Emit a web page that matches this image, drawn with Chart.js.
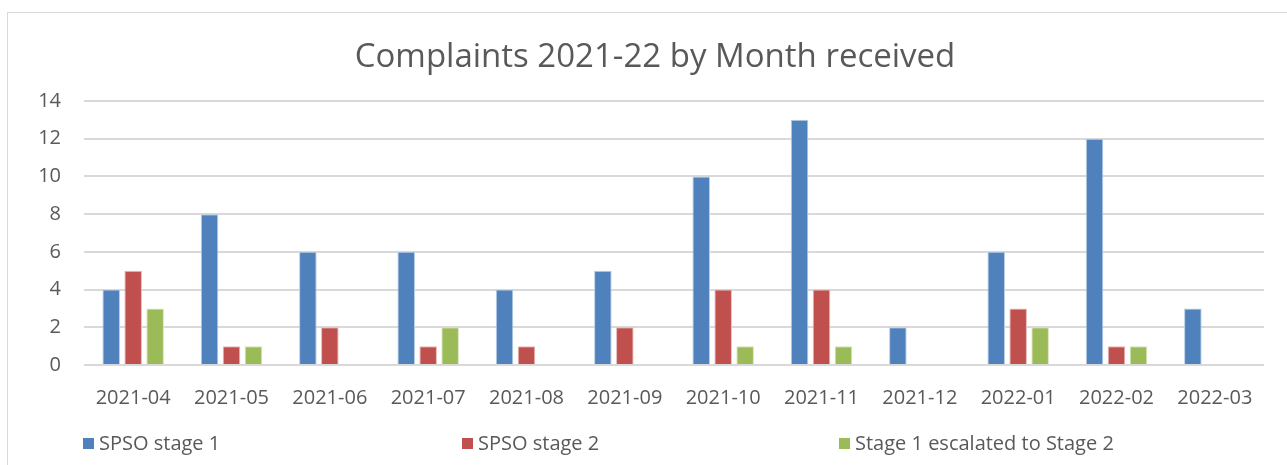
<!DOCTYPE html>
<html>
<head>
<meta charset="utf-8">
<script src="https://cdn.jsdelivr.net/npm/chart.js@4"></script>
<style>
  html, body { margin: 0; padding: 0; background: #fff; overflow: hidden; }
  #frame {
    position: absolute; left: 7px; top: 12px;
    width: 1300px; height: 470px;
    border: 1px solid #d9d9d9; box-sizing: border-box;
  }
  #wrap { position: absolute; left: 1px; top: 1px; width: 1279px; height: 452px; }
</style>
</head>
<body>
<div id="frame"><div id="wrap"><canvas id="complaintsChart"></canvas></div></div>
<script>
// Complaints by month
const chartTitle = "Complaints 2021-22 by Month received";
const months = ["2021-04", "2021-05", "2021-06", "2021-07", "2021-08", "2021-09",
                "2021-10", "2021-11", "2021-12", "2022-01", "2022-02", "2022-03"];
const spsoStage1 = [4, 8, 6, 6, 4, 5, 10, 13, 2, 6, 12, 3];
const spsoStage2 = [5, 1, 2, 1, 1, 2, 4, 4, 0, 3, 1, 0];
const escalated = [3, 1, 0, 2, 0, 0, 1, 1, 0, 2, 1, 0];
const yTicks = [0, 2, 4, 6, 8, 10, 12, 14];

const FONT = "'Open Sans', 'Noto Sans', sans-serif";
const TEXT = "#595959";

// Excel-style title (slightly off centre) and legend spread across the bottom
const excelDecor = {
  id: "excelDecor",
  afterDraw(chart) {
    const ctx = chart.ctx;
    ctx.save();
    ctx.fillStyle = TEXT;
    ctx.textAlign = "center";
    ctx.textBaseline = "middle";
    ctx.font = "33px " + FONT;
    ctx.fillText(chartTitle, 646, 44);

    const xs = [74, 453, 830];
    const y = 430;
    ctx.textAlign = "left";
    ctx.font = "20px " + FONT;
    chart.data.datasets.forEach((ds, i) => {
      ctx.fillStyle = ds.backgroundColor;
      ctx.fillRect(xs[i], y - 6, 11, 11);
      ctx.fillStyle = TEXT;
      ctx.fillText(ds.label, xs[i] + 16, y);
    });
    ctx.restore();
  }
};

const ctx = document.getElementById("complaintsChart");
new Chart(ctx, {
  type: "bar",
  data: {
    labels: months,
    datasets: [
      { label: "SPSO stage 1", data: spsoStage1, backgroundColor: "#4f81bd", borderColor: "#b9cde5" },
      { label: "SPSO stage 2", data: spsoStage2, backgroundColor: "#c0504d", borderColor: "#e6b9b8" },
      { label: "Stage 1 escalated to Stage 2", data: escalated, backgroundColor: "#9bbb59", borderColor: "#d7e4bd" },
    ].map(d => Object.assign(d, { borderWidth: 1, categoryPercentage: 0.67, barPercentage: 0.8 })),
  },
  options: {
    responsive: true,
    maintainAspectRatio: false,
    animation: false,
    layout: { padding: { left: 0, right: 24, top: 87, bottom: 0 } },
    plugins: {
      legend: { display: false },
      tooltip: { enabled: false },
      title: { display: false },
    },
    scales: {
      x: {
        grid: { display: false, drawTicks: false },
        border: { display: false },
        ticks: { color: TEXT, font: { family: FONT, size: 20 }, maxRotation: 0, padding: 21 },
        afterFit: s => { s.height = 101; },
      },
      y: {
        min: 0,
        max: 14,
        afterBuildTicks: s => { s.ticks = yTicks.map(v => ({ value: v })); },
        grid: { color: "#d9d9d9", lineWidth: 2, drawTicks: false },
        border: { display: false },
        ticks: { color: TEXT, font: { family: FONT, size: 20 }, padding: 23 },
        afterFit: s => { s.width = 75; },
      },
    },
  },
  plugins: [excelDecor],
});
</script>
</body>
</html>
